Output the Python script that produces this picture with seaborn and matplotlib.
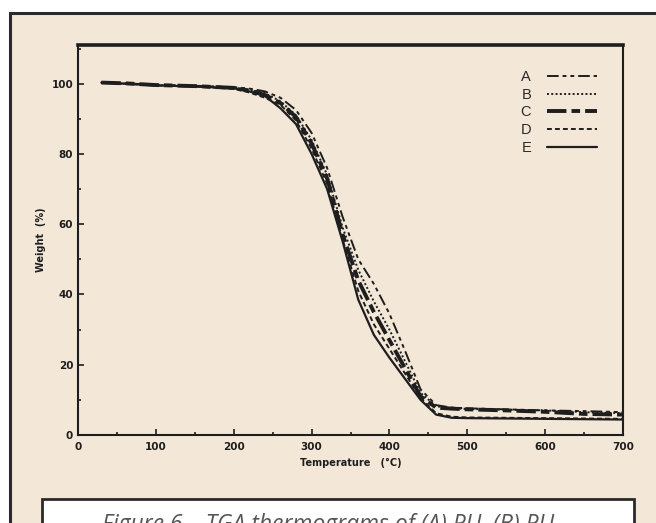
import matplotlib
matplotlib.use("Agg")
import matplotlib.pyplot as plt
import matplotlib.patches as mpatches
from matplotlib.ticker import MultipleLocator
import seaborn as sns

# TGA curves
temp = [30, 60, 100, 150, 200, 220, 240, 260, 280, 300, 320, 340, 360, 380,
        400, 420, 440, 460, 480, 500, 550, 600, 650, 700]

w_a = [100.3, 100.1, 99.7, 99.4, 99.0, 98.6, 97.8, 96.0, 92.5, 86.0, 76.0, 62.0,
       50.0, 43.0, 34.5, 24.0, 13.0, 8.5, 7.8, 7.6, 7.3, 7.0, 6.8, 6.5]
w_b = [100.3, 100.0, 99.6, 99.3, 98.9, 98.3, 97.3, 95.0, 91.0, 84.0, 74.0, 59.0,
       47.0, 38.0, 30.0, 21.0, 12.0, 8.2, 7.6, 7.4, 7.2, 7.0, 6.5, 6.2]
w_c = [100.3, 100.1, 99.6, 99.3, 98.8, 98.0, 96.8, 94.5, 90.5, 83.0, 73.0, 57.0,
       44.0, 35.0, 27.0, 19.0, 11.0, 7.8, 7.5, 7.3, 7.0, 6.6, 6.0, 5.8]
w_d = [100.3, 100.0, 99.5, 99.2, 98.5, 97.5, 96.0, 94.0, 89.5, 81.5, 71.5, 55.5,
       41.0, 31.5, 24.5, 17.5, 10.5, 6.2, 5.2, 5.0, 4.9, 4.8, 4.7, 4.6]
w_e = [100.3, 100.0, 99.5, 99.2, 98.7, 97.8, 96.5, 93.0, 88.5, 80.0, 70.0, 55.0,
       38.5, 28.5, 22.0, 16.0, 10.0, 5.8, 4.9, 4.8, 4.7, 4.6, 4.5, 4.4]

series = ["A", "B", "C", "D", "E"]
weights = [w_a, w_b, w_c, w_d, w_e]
styles = [(0, (6, 2, 2, 2, 2, 2)), (0, (1, 1.2)), (0, (5, 1.3, 2.2, 1.3)),
          (0, (2.5, 1.6)), "-"]
widths = [1.4, 1.4, 2.8, 1.4, 1.6]

x_ticks = [0, 100, 200, 300, 400, 500, 600, 700]
y_ticks = [0, 20, 40, 60, 80, 100]

sns.set_theme(style="ticks")
plt.rcParams["font.family"] = ["DejaVu Sans"]

bg = "#f3e7d8"
ink = "#1e1e1e"

fig = plt.figure(figsize=(6.56, 5.23), dpi=100)
fig.patch.set_facecolor("white")

# outer panel and caption box (behind the axes)
fig.patches.append(mpatches.Rectangle((10 / 656, -0.05), 1.0, 1 - 13 / 523 + 0.05,
                                      transform=fig.transFigure, facecolor=bg,
                                      edgecolor="#2a2a2a", linewidth=2.2, zorder=-2))
fig.patches.append(mpatches.Rectangle((42 / 656, -0.05), (634 - 42) / 656, 24 / 523 + 0.05,
                                      transform=fig.transFigure, facecolor="white",
                                      edgecolor="#2a2a2a", linewidth=2.0, zorder=-1))
fig.text(0.5, -8 / 523, "Figure 6 \u2013 TGA thermograms of (A) PU, (B) PU",
         ha="center", va="baseline", fontsize=16.5, style="italic",
         family=["Open Sans", "DejaVu Sans"], color="#555555")

ax = fig.add_axes([78 / 656, 1 - 435 / 523, 545 / 656, 390 / 523])
ax.set_zorder(1)
ax.set_facecolor(bg)

for name, w, ls, lw in zip(series, weights, styles, widths):
    sns.lineplot(x=temp, y=w, ax=ax, color=ink, linestyle=ls, linewidth=lw,
                 label=name)

ax.set_xlim(0, 700)
ax.set_ylim(0, 111)
ax.set_xticks(x_ticks)
ax.set_yticks(y_ticks)
ax.xaxis.set_minor_locator(MultipleLocator(50))
ax.yaxis.set_minor_locator(MultipleLocator(10))
ax.tick_params(which="both", direction="in", colors=ink, width=1.2,
               labelsize=7.5, top=False, right=False)
ax.tick_params(which="major", length=4)
ax.tick_params(which="minor", length=2.5)
ax.tick_params(axis="x", pad=5)
for lab in ax.get_xticklabels() + ax.get_yticklabels():
    lab.set_fontweight("bold")

for side in ["left", "bottom", "right"]:
    ax.spines[side].set_color(ink)
    ax.spines[side].set_linewidth(1.5)
ax.spines["top"].set_color(ink)
ax.spines["top"].set_linewidth(2.6)

ax.set_xlabel("Temperature   (\u00b0C)", fontsize=7, fontweight="bold", color=ink,
              labelpad=4)
ax.set_ylabel("Weight  (%)", fontsize=7, fontweight="bold", color=ink, labelpad=4)

leg = ax.legend(loc="upper right", bbox_to_anchor=(0.965, 0.955), frameon=False,
                markerfirst=False, fontsize=10.5, handlelength=3.4,
                handletextpad=1.1, labelspacing=0.26, borderpad=0)
for t in leg.get_texts():
    t.set_color("#2a2a2a")
    t.set_family(["Liberation Sans", "DejaVu Sans"])

fig.savefig("out.png", dpi=100, facecolor=fig.get_facecolor())
